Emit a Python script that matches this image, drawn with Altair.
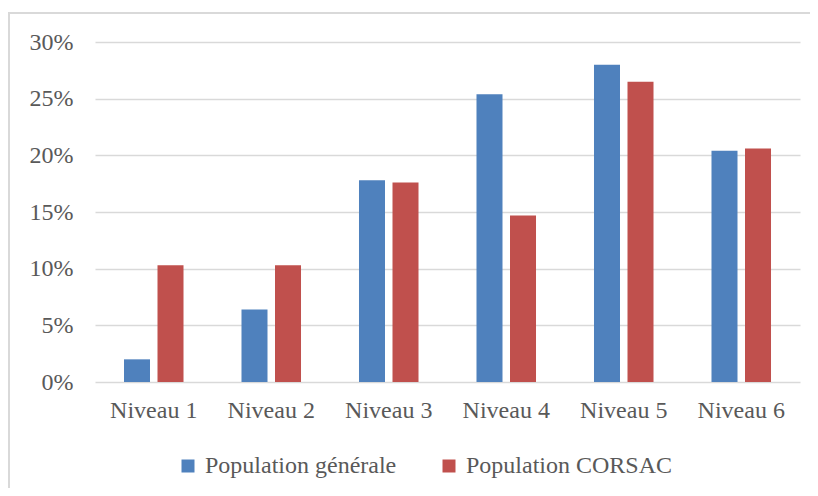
import altair as alt
import pandas as pd

categories = ["Niveau 1", "Niveau 2", "Niveau 3", "Niveau 4", "Niveau 5", "Niveau 6"]
series_names = ["Population générale", "Population CORSAC"]
pop_generale = [0.020, 0.064, 0.178, 0.254, 0.280, 0.204]
pop_corsac = [0.103, 0.103, 0.176, 0.147, 0.265, 0.206]
y_ticks = [0, 0.05, 0.10, 0.15, 0.20, 0.25, 0.30]
colors = ["#4F81BD", "#C0504D"]

rows = []
for i, c in enumerate(categories):
    rows.append({"cat": c, "serie": series_names[0], "val": pop_generale[i]})
    rows.append({"cat": c, "serie": series_names[1], "val": pop_corsac[i]})
df = pd.DataFrame(rows)

FONT = "Liberation Serif"
TXT = "#595959"

bars = alt.Chart(df).mark_bar().encode(
    x=alt.X("cat:N", sort=categories, title=None,
            scale=alt.Scale(paddingInner=0, paddingOuter=0),
            axis=alt.Axis(labelAngle=0, domain=False, ticks=False, labelPadding=16,
                          labelFont=FONT, labelFontSize=24, labelColor=TXT)),
    xOffset=alt.XOffset("serie:N", sort=series_names,
                        scale=alt.Scale(paddingInner=0.224, paddingOuter=0.865)),
    y=alt.Y("val:Q", title=None,
            scale=alt.Scale(domain=[0, 0.30], nice=False),
            axis=alt.Axis(values=y_ticks, format=".0%", domain=False, ticks=False,
                          labelPadding=22, labelFont=FONT, labelFontSize=24, labelColor=TXT,
                          gridColor="#d9d9d9", gridWidth=1.5)),
    color=alt.Color("serie:N", sort=series_names,
                    scale=alt.Scale(domain=series_names, range=colors),
                    legend=alt.Legend(title=None, orient="none", direction="horizontal",
                                      legendX=81, legendY=412,
                                      symbolType="square", symbolSize=169,
                                      symbolStrokeWidth=0, labelOffset=5,
                                      columnPadding=40, labelLimit=0,
                                      labelFont=FONT, labelFontSize=24, labelColor=TXT)),
)

border = alt.Chart(df).mark_rect(fill=None, stroke="#d9d9d9", strokeWidth=1.5).encode(
    x=alt.value(-86), x2=alt.value(740), y=alt.value(-29), y2=alt.value(470)
)

chart = alt.layer(border, bars).properties(
    width=705, height=340,
    autosize=alt.AutoSizeParams(type="none"),
    padding={"left": 87, "top": 34, "right": 10, "bottom": 106},
).configure_view(stroke=None)

chart.save("out.html", embed_options={"renderer": "svg", "actions": False})
